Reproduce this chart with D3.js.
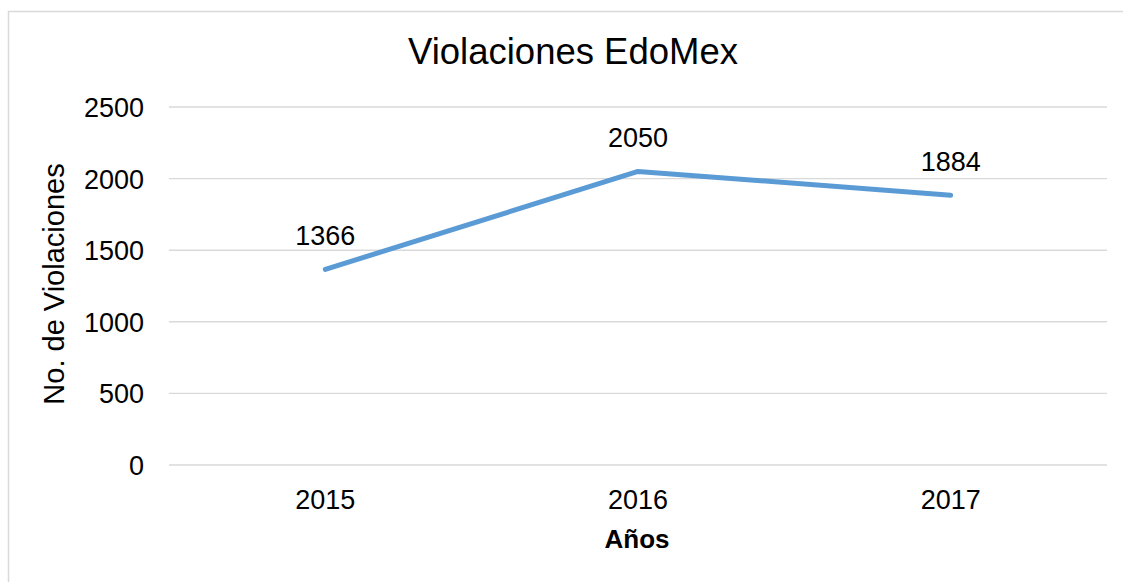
<!DOCTYPE html>
<html>
<head>
<meta charset="utf-8">
<script src="https://cdn.jsdelivr.net/npm/d3@7"></script>
<style>
  body { margin: 0; background: #fff; }
  text { font-family: "Liberation Sans", Arial, sans-serif; fill: #000; }
</style>
</head>
<body>
<div id="chart"></div>
<script>
const years = ['2015', '2016', '2017'];
const violaciones = [1366, 2050, 1884];
const yTicks = [0, 500, 1000, 1500, 2000, 2500];

const W = 1123, H = 582;
const margin = { left: 169, right: 16, top: 107, bottom: 117 };

const svg = d3.select('#chart').append('svg')
  .attr('width', W)
  .attr('height', H);

// chart frame
svg.append('rect')
  .attr('x', 8.5).attr('y', 11.5)
  .attr('width', 1140).attr('height', 620)
  .attr('fill', 'none')
  .attr('stroke', '#d9d9d9')
  .attr('stroke-width', 1.5);

const x = d3.scaleBand()
  .domain(years)
  .range([margin.left, W - margin.right]);

const y = d3.scaleLinear()
  .domain([0, 2500])
  .range([H - margin.bottom, margin.top]);

// gridlines
svg.append('g')
  .selectAll('line')
  .data(yTicks)
  .join('line')
  .attr('x1', margin.left)
  .attr('x2', W - margin.right)
  .attr('y1', d => y(d))
  .attr('y2', d => y(d))
  .attr('stroke', '#d9d9d9')
  .attr('stroke-width', 1.4);

// y tick labels
svg.append('g')
  .selectAll('text')
  .data(yTicks)
  .join('text')
  .attr('x', 144)
  .attr('y', d => y(d) + 10)
  .attr('text-anchor', 'end')
  .style('font-size', '27px')
  .text(d => d);

// x tick labels
svg.append('g')
  .selectAll('text')
  .data(years)
  .join('text')
  .attr('x', d => x(d) + x.bandwidth() / 2)
  .attr('y', 509)
  .attr('text-anchor', 'middle')
  .style('font-size', '27px')
  .text(d => d);

const line = d3.line()
  .x((d, i) => x(years[i]) + x.bandwidth() / 2)
  .y(d => y(d));

svg.append('path')
  .datum(violaciones)
  .attr('d', line)
  .attr('fill', 'none')
  .attr('stroke', '#5b9bd5')
  .attr('stroke-width', 5)
  .attr('stroke-linecap', 'round')
  .attr('stroke-linejoin', 'round');

// data labels
svg.append('g')
  .selectAll('text')
  .data(violaciones)
  .join('text')
  .attr('x', (d, i) => x(years[i]) + x.bandwidth() / 2)
  .attr('y', d => y(d) - 24)
  .attr('text-anchor', 'middle')
  .style('font-size', '27px')
  .text(d => d);

// title
svg.append('text')
  .attr('x', 573)
  .attr('y', 64)
  .attr('text-anchor', 'middle')
  .style('font-size', '36.5px')
  .text('Violaciones EdoMex');

// axis titles
svg.append('text')
  .attr('transform', 'translate(64,284) rotate(-90)')
  .attr('text-anchor', 'middle')
  .style('font-size', '29px')
  .text('No. de Violaciones');

svg.append('text')
  .attr('x', 637)
  .attr('y', 548)
  .attr('text-anchor', 'middle')
  .style('font-size', '26px')
  .style('font-weight', 'bold')
  .text('Años');
</script>
</body>
</html>
